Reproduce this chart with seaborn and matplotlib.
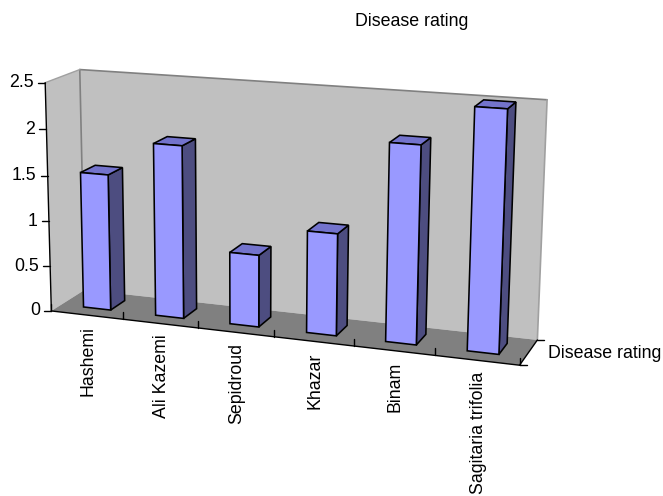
import numpy as np
import pandas as pd
import seaborn as sns
import matplotlib
matplotlib.use("Agg")
import matplotlib.pyplot as plt
from matplotlib.patches import Polygon
from matplotlib.transforms import IdentityTransform, Transform

categories = ["Hashemi", "Ali Kazemi", "Sepidroud", "Khazar", "Binam", "Sagitaria trifolia"]
disease_rating = [1.5, 1.88, 0.78, 1.09, 2.08, 2.5]
value_ticks = [0, 0.5, 1, 1.5, 2, 2.5]
series_name = "Disease rating"

W, H = 663, 496
X0, X1 = -0.5, 5.5
BAR_FRONT, BAR_BACK = 0.3, 0.74

# box corners (x, depth, z) -> where they sit in the image, used to fit the camera
corners_3d = [(X0, 0, 2.5), (X0, 1, 2.5), (X1, 1, 2.5), (X0, 0, 0), (X0, 1, 0), (X1, 1, 0), (X1, 0, 0)]
corners_px = [(44, 82), (81, 70), (547, 100), (53, 310), (83, 291), (538, 338), (519, 367)]

A, b = [], []
for (x, d, z), (u, v) in zip(corners_3d, corners_px):
    A.append([x, d, z, 1, 0, 0, 0, 0, -u*x, -u*d, -u*z])
    A.append([0, 0, 0, 0, x, d, z, 1, -v*x, -v*d, -v*z])
    b += [u, v]
P = np.append(np.linalg.lstsq(np.array(A, float), np.array(b, float), rcond=None)[0], 1).reshape(3, 4)


def project(x, d, z):
    q = P @ np.array([x, d, z, 1.0])
    return q[0]/q[2], H - q[1]/q[2]


class PlaneAtDepth(Transform):
    # maps (category, value) on the plane at one depth to display pixels
    input_dims = 2
    output_dims = 2

    def __init__(self, plane_depth):
        super().__init__()
        self.plane_depth = plane_depth

    def transform_non_affine(self, values):
        return np.array([project(x, self.plane_depth, z) for x, z in np.asarray(values)])


sns.set_theme(style="white")
plt.rcParams["font.family"] = ["Liberation Sans", "DejaVu Sans"]

fig = plt.figure(figsize=(W/100, H/100), dpi=100)
ax = fig.add_axes([0, 0, 1, 1])

FRONT = "#9999FF"
TOP = "#7373CC"
SIDE = "#4D4D80"
PIXELS = IdentityTransform()


def face(points, **kw):
    ax.add_patch(Polygon([project(*p) for p in points], closed=True, transform=PIXELS, clip_on=False, **kw))


def seg(p, q, dx=0, dy=0, **kw):
    a, c = project(*p), project(*q)
    ax.add_line(plt.Line2D([a[0], c[0]+dx], [a[1], c[1]-dy], transform=PIXELS, clip_on=False, **kw))


def label(x, y, s, **kw):
    ax.text(x, y, s, transform=PIXELS, fontsize=12.8, color="black", **kw)


data = pd.DataFrame({"cultivar": categories, "rating": disease_rating})
sns.barplot(data=data, x="cultivar", y="rating", color=FRONT, saturation=1, width=0.38, ax=ax)
bars = list(ax.patches)
ax.set_xlim(X0, X1)
ax.set_ylim(0, 2.5)
ax.axis("off")

# walls and floor
face([(X0, 1, 0), (X1, 1, 0), (X1, 1, 2.5), (X0, 1, 2.5)], fc="#C0C0C0", ec="none", zorder=1)
face([(X0, 0, 0), (X0, 1, 0), (X0, 1, 2.5), (X0, 0, 2.5)], fc="#C0C0C0", ec="none", zorder=1)
face([(X0, 0, 0), (X1, 0, 0), (X1, 1, 0), (X0, 1, 0)], fc="#808080", ec="none", zorder=1)
gray = dict(color="#808080", lw=1.2, zorder=2)
seg((X0, 1, 0), (X0, 1, 2.5), **gray)
seg((X0, 1, 2.5), (X1, 1, 2.5), **gray)
seg((X1, 1, 2.5), (X1, 1, 0), color="#A0A0A0", lw=1.2, zorder=2)
seg((X0, 0, 2.5), (X0, 1, 2.5), color="#A0A0A0", lw=1.0, zorder=2)

# bars, seaborn's rectangles bent onto the front plane of each column
for i, bar in enumerate(bars):
    l, r, h = bar.get_x(), bar.get_x() + bar.get_width(), bar.get_height()
    z = 10 + i
    bar.set_transform(PlaneAtDepth(BAR_FRONT))
    bar.set(edgecolor="black", linewidth=1.15, zorder=z + 0.5, clip_on=False)
    face([(r, BAR_FRONT, 0), (r, BAR_BACK, 0), (r, BAR_BACK, h), (r, BAR_FRONT, h)], fc=SIDE, ec="black", lw=1.15, zorder=z)
    face([(l, BAR_FRONT, h), (r, BAR_FRONT, h), (r, BAR_BACK, h), (l, BAR_BACK, h)], fc=TOP, ec="black", lw=1.15, zorder=z)

# axes lines and ticks
black = dict(color="black", lw=1.0, zorder=5)
seg((X0, 0, 0), (X0, 0, 2.5), **black)
seg((X0, 0, 0), (X1, 0, 0), **black)
seg((X1, 0, 0), (X1, 1, 0), **black)
for v in value_ticks:
    seg((X0, 0, v), (X0, 0, v), dx=-7, **black)
    px, py = project(X0, 0, v)
    label(px - 11, py, str(v), ha="right", va="center")
for k in range(len(categories) + 1):
    seg((X0 + k, 0, 0), (X0 + k, 0, 0), dy=-7, **black)
for i, name in enumerate(categories):
    px, py = project(i, 0, 0)
    label(px + 1, py - 11, name, rotation=90, ha="center", va="top")
seg((X1, 0, 0), (X1, 0, 0), dx=7, **black)
seg((X1, 1, 0), (X1, 1, 0), dx=7, **black)
label(548, H - 353, series_name, ha="left", va="center")
label(412, H - 21, series_name, ha="center", va="center")

fig.savefig("out.png", dpi=100)
